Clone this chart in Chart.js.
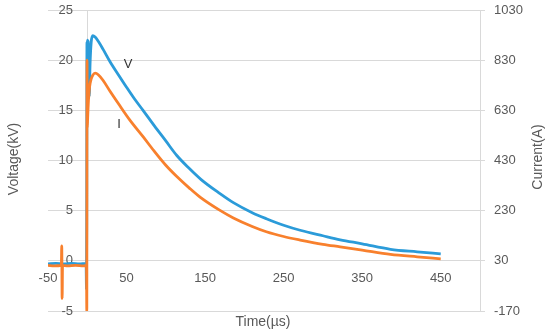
<!DOCTYPE html>
<html>
<head>
<meta charset="utf-8">
<script src="https://cdn.jsdelivr.net/npm/chart.js@4/dist/chart.umd.min.js"></script>
<style>
  html, body { margin: 0; padding: 0; background: #ffffff; }
  #wrap { width: 550px; height: 334px; position: relative; }
</style>
</head>
<body>
<div id="wrap"><canvas id="c" width="550" height="334"></canvas></div>
<script>
// ---- data ----
const xTicks = [-50, 50, 150, 250, 350, 450];
const vTicks = [-5, 0, 5, 10, 15, 20, 25];
const iTicks = [-170, 30, 230, 430, 630, 830, 1030];

const vTime = [-50,-40,-30,-20,-10,-1.5,-1,-0.7,-0.4,0,0.4,0.8,1.2,1.6,2,2.5,3.5,5,7,10,15,20,29,40,50,60,71,85,100,114,130,145,169,186,210,228,250,271,300,322,350,386,420,450];
const voltage = [-0.3,-0.25,-0.3,-0.25,-0.3,-0.25,-2.8,4,21.8,16.2,22,17,21.9,17.5,21.6,16.4,19.5,21.8,22.45,22.3,21.75,21.1,19.85,18.5,17.3,16.15,15.0,13.5,11.95,10.5,9.2,8.1,6.7,5.8,4.8,4.2,3.55,3.05,2.5,2.1,1.7,1.15,0.9,0.7];

const iTime = [-50,-42,-33,-32.5,-32,-31.5,-25,-15,-5,-1,-0.6,-0.3,0,0.5,1,1.5,2,3,5,7,10,14,20,29,40,54,71,85,100,114,130,144,169,186,210,228,250,271,300,322,350,386,420,450];
const current = [12,10,12,90,-120,12,10,12,10,12,-170,830,560,600,640,670,690,725,755,770,778,772,750,706,655,592,525,468,411,366,320,283,231,201,167,146,127,113,96,86,73,56,46,38];

const seriesNames = ['V', 'I'];
const seriesLabelPos = [[52, 19.6], [40.5, 13.6]];
const xTitle = 'Time(\u00b5s)';
const vTitle = 'Voltage(kV)';
const iTitle = 'Current(A)';

const FONT = '"Liberation Sans", Arial, sans-serif';
const GRID = '#d9d9d9';
const TXT = '#595959';

const titlePlugin = {
  id: 'titles',
  afterDatasetsDraw(chart) {
    const ctx = chart.ctx;
    const ca = chart.chartArea;
    const sx = chart.scales.x, sy = chart.scales.y;
    ctx.save();
    ctx.fillStyle = TXT;
    ctx.font = '14px ' + FONT;
    ctx.textAlign = 'center';
    ctx.textBaseline = 'middle';
    ctx.fillText(xTitle, (ca.left + ca.right) / 2 - 1, 322);
    ctx.save();
    ctx.translate(14, 159);
    ctx.rotate(-Math.PI / 2);
    ctx.fillText(vTitle, 0, 0);
    ctx.restore();
    ctx.save();
    ctx.translate(538, 157);
    ctx.rotate(-Math.PI / 2);
    ctx.fillText(iTitle, 0, 0);
    ctx.restore();
    ctx.fillStyle = '#333333';
    ctx.font = '13px ' + FONT;
    for (let k = 0; k < seriesNames.length; k++) {
      ctx.fillText(seriesNames[k], sx.getPixelForValue(seriesLabelPos[k][0]), sy.getPixelForValue(seriesLabelPos[k][1]));
    }
    ctx.restore();
  }
};

const tickFont = { family: FONT, size: 13 };
const noPad = (s) => { s.paddingTop = 0; s.paddingBottom = 0; s.paddingLeft = 0; s.paddingRight = 0; };

new Chart(document.getElementById('c'), {
  type: 'line',
  data: {
    datasets: [
      {
        label: 'I',
        data: iTime.map((t, k) => ({ x: t, y: current[k] })),
        yAxisID: 'y2',
        borderColor: '#f8802d',
        borderWidth: 2.8,
        pointRadius: 0,
        cubicInterpolationMode: 'monotone',
        order: 0
      },
      {
        label: 'V',
        data: vTime.map((t, k) => ({ x: t, y: voltage[k] })),
        yAxisID: 'y',
        borderColor: '#2b9bd9',
        borderWidth: 2.8,
        pointRadius: 0,
        cubicInterpolationMode: 'monotone',
        order: 1
      }
    ]
  },
  options: {
    responsive: false,
    animation: false,
    events: [],
    layout: { padding: { left: 48, top: 10, right: 0, bottom: 23 } },
    plugins: { legend: { display: false }, tooltip: { enabled: false } },
    scales: {
      x: {
        type: 'linear',
        min: -50, max: 500,
        position: { y: 0 },
        afterBuildTicks: (s) => { s.ticks = xTicks.map(v => ({ value: v })); },
        afterFit: noPad,
        grid: { display: false, drawTicks: false },
        border: { display: true, color: GRID, width: 1 },
        ticks: { color: TXT, font: tickFont, padding: 10, maxRotation: 0, autoSkip: false }
      },
      y: {
        type: 'linear',
        min: -5, max: 25,
        position: 'left',
        afterBuildTicks: (s) => { s.ticks = vTicks.map(v => ({ value: v })); },
        afterFit: (s) => { s.width = 0; noPad(s); },
        grid: { color: GRID, lineWidth: 1, drawTicks: false },
        border: { display: false },
        ticks: { color: TXT, font: tickFont, mirror: true, crossAlign: 'far', padding: 10.5 }
      },
      y0: {
        type: 'linear',
        min: -5, max: 25,
        position: { x: 0 },
        afterFit: noPad,
        grid: { display: false, drawTicks: false },
        border: { display: true, color: GRID, width: 1 },
        ticks: { display: false }
      },
      y2: {
        type: 'linear',
        min: -170, max: 1030,
        position: 'right',
        afterBuildTicks: (s) => { s.ticks = iTicks.map(v => ({ value: v })); },
        afterFit: (s) => { s.width = 70; noPad(s); },
        grid: { drawOnChartArea: false, drawTicks: true, tickLength: 5, color: GRID },
        border: { display: true, color: GRID, width: 1 },
        ticks: { color: TXT, font: tickFont, padding: 9, callback: (v) => String(v) }
      }
    }
  },
  plugins: [titlePlugin]
});
</script>
</body>
</html>
